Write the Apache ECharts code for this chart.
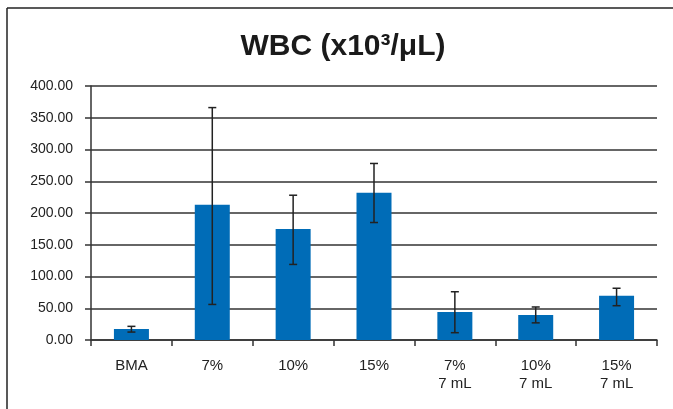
<!DOCTYPE html>
<html>
<head>
<meta charset="utf-8">
<script src="https://cdn.jsdelivr.net/npm/echarts@6/dist/echarts.min.js"></script>
<style>
html,body{margin:0;padding:0;background:#fff;}
#c{width:673px;height:409px;}
</style>
</head>
<body>
<div id="c"></div>
<script>
var categories = ['BMA', '7%', '10%', '15%', '7%\n7 mL', '10%\n7 mL', '15%\n7 mL'];
var means = [17.5, 213, 175, 232, 44, 39.5, 69.5];
var errLow = [12.5, 56, 119, 185, 11.5, 27, 54];
var errHigh = [21.5, 366, 228, 278, 76, 52, 81.5];
var yTicks = [0, 50, 100, 150, 200, 250, 300, 350, 400];

var chart = echarts.init(document.getElementById('c'), null, {renderer: 'canvas'});
var errData = categories.map(function (c, i) { return [i, errLow[i], errHigh[i]]; });

chart.setOption({
  animation: false,
  title: {
    text: 'WBC (x10³/μL)',
    left: 338, textAlign: 'center', top: 27,
    textStyle: {fontFamily: 'Liberation Sans, Arial, sans-serif', fontWeight: 'bold', fontSize: 30, color: '#1a1a1a'}
  },
  grid: {left: 91, right: 16, top: 86, bottom: 69},
  xAxis: {
    type: 'category',
    data: categories,
    axisLine: {lineStyle: {color: '#333', width: 1.5}},
    axisTick: {show: true, length: 6, lineStyle: {color: '#333', width: 1.5}, alignWithLabel: false},
    axisLabel: {color: '#222', fontSize: 15, fontFamily: 'Liberation Sans, Arial, sans-serif', margin: 17, lineHeight: 18}
  },
  yAxis: {
    type: 'value',
    min: yTicks[0], max: yTicks[yTicks.length - 1], interval: 50,
    axisLine: {show: true, lineStyle: {color: '#333', width: 1.5}},
    axisTick: {show: true, length: 6, lineStyle: {color: '#333', width: 1.5}},
    axisLabel: {color: '#222', fontSize: 14, fontFamily: 'Liberation Sans, Arial, sans-serif', margin: 18,
      formatter: function (v) { return v.toFixed(2); }},
    splitLine: {lineStyle: {color: '#333', width: 1.5}}
  },
  series: [
    {
      type: 'bar',
      data: means,
      barWidth: 35,
      itemStyle: {color: '#006cb7'}
    },
    {
      type: 'custom',
      data: errData,
      z: 10,
      renderItem: function (params, api) {
        var x = api.value(0);
        var lo = api.coord([x, api.value(1)]);
        var hi = api.coord([x, api.value(2)]);
        var w = 4;
        var st = {stroke: '#222', lineWidth: 1.5};
        return {
          type: 'group',
          children: [
            {type: 'line', shape: {x1: hi[0], y1: hi[1], x2: lo[0], y2: lo[1]}, style: st},
            {type: 'line', shape: {x1: hi[0] - w, y1: hi[1], x2: hi[0] + w, y2: hi[1]}, style: st},
            {type: 'line', shape: {x1: lo[0] - w, y1: lo[1], x2: lo[0] + w, y2: lo[1]}, style: st}
          ]
        };
      }
    }
  ],
  graphic: [
    {type: 'line', shape: {x1: 7, y1: 8, x2: 673, y2: 8}, style: {stroke: '#222', lineWidth: 1.5}},
    {type: 'line', shape: {x1: 7, y1: 8, x2: 7, y2: 409}, style: {stroke: '#222', lineWidth: 1.5}}
  ]
});
</script>
</body>
</html>
